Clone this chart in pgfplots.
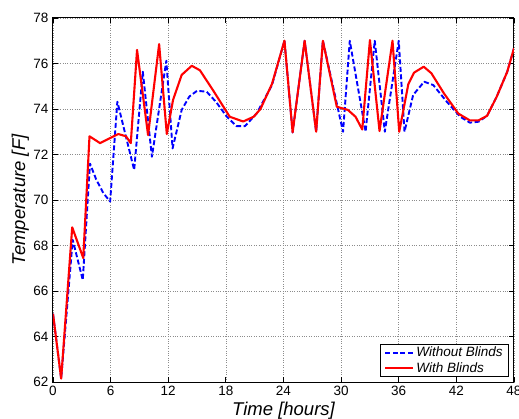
\documentclass[border=0pt]{standalone}
\usepackage{fontspec}
\setmainfont{Liberation Sans}
\usepackage{pgfplots}
\pgfplotsset{compat=1.18}
\begin{document}
\begin{tikzpicture}
\begin{axis}[
  at={(0bp,0bp)}, anchor=south west,
  scale only axis, width=461bp, height=364bp,
  xmin=0, xmax=48, ymin=62, ymax=78,
  xtick={0,6,...,48}, ytick={62,64,...,78},
  tick align=inside, tick pos=both,
  major tick length=5bp,
  grid=major,
  major grid style={dotted, black!45, line width=0.6bp},
  axis line style={line width=1bp},
  every tick/.style={black, line width=0.8bp},
  tick label style={font=\fontsize{13.5bp}{16bp}\selectfont},
  xticklabel style={yshift=-1bp},
  yticklabel style={xshift=-1bp},
  /pgf/number format/assume math mode=true,
  xlabel={Time [hours]}, ylabel={Temperature [F]},
  label style={font=\fontsize{18.5bp}{22bp}\selectfont\itshape},
  xlabel style={at={(axis description cs:0.5,-0.0907)}, anchor=base},
  ylabel style={at={(axis description cs:-0.0607,0.5)}, anchor=base, rotate=0},
  legend style={at={(axis description cs:0.9892,0.0137)}, anchor=south east,
    draw=black, line width=0.8bp, fill=white,
    font=\fontsize{13.5bp}{16bp}\selectfont\itshape,
    inner xsep=4bp, inner ysep=1bp, row sep=0bp,
    cells={anchor=west}},
  legend image code/.code={\draw[#1] (0bp,0bp) -- (28bp,0bp);},
]
\addplot[blue, line width=1.9bp, dash pattern=on 5bp off 2.5bp, line join=round] coordinates {
(0,65.0) (0.85,62.15) (2.05,68.25) (3.1,66.48) (3.85,71.6) (4.5,70.9) (5.25,70.3)
(5.95,69.93) (6.7,74.32) (8.45,71.32) (9.35,75.64) (10.3,71.9) (11.8,76.12)
(12.45,72.27) (13.4,73.96) (14.2,74.55) (15.0,74.8) (16.0,74.76) (17.0,74.3)
(18.1,73.66) (19.1,73.25) (20.0,73.25) (21.2,73.8) (22.8,75.05) (24.1,77.0)
(24.95,72.97) (26.2,77.0) (27.4,73.0) (28.1,77.0) (30.2,73.0) (30.9,77.0)
(32.55,73.0) (33.5,77.0) (34.55,73.0) (36.0,77.0) (36.6,73.0) (37.5,74.62)
(38.65,75.2) (39.6,75.05) (41.0,74.32) (42.4,73.66) (43.4,73.4) (44.3,73.44)
(45.2,73.7) (46.2,74.54) (47.3,75.64) (48,76.67)
};
\addlegendentry{Without Blinds}
\addplot[red, line width=2.1bp, line join=round] coordinates {
(0,65.0) (0.85,62.15) (2.0,68.8) (3.15,67.45) (3.8,72.8) (4.9,72.5) (6.8,72.9)
(7.6,72.8) (8.1,72.5) (8.75,76.6) (9.9,72.85) (11.05,76.85) (11.85,72.9)
(12.5,74.4) (13.4,75.5) (14.45,75.9) (15.3,75.7) (16.7,74.8) (18.4,73.66)
(19.8,73.45) (20.9,73.66) (21.6,74.0) (22.8,75.1) (24.1,77.0) (24.95,72.97)
(26.2,77.0) (27.4,73.0) (28.1,77.0) (29.55,74.1) (30.7,73.96) (31.5,73.66)
(32.2,73.1) (33.0,77.03) (34.0,73.03) (35.35,77.0) (36.05,73.0) (37.0,75.1)
(37.6,75.6) (38.6,75.86) (39.4,75.57) (40.7,74.69) (42.2,73.8) (43.4,73.5)
(44.3,73.5) (45.2,73.7) (46.2,74.54) (47.3,75.64) (48,76.67)
};
\addlegendentry{With Blinds}
\end{axis}
\pgfresetboundingbox
\path[use as bounding box] (-53bp,-37bp) rectangle (466bp,382bp);
\end{tikzpicture}
\end{document}
